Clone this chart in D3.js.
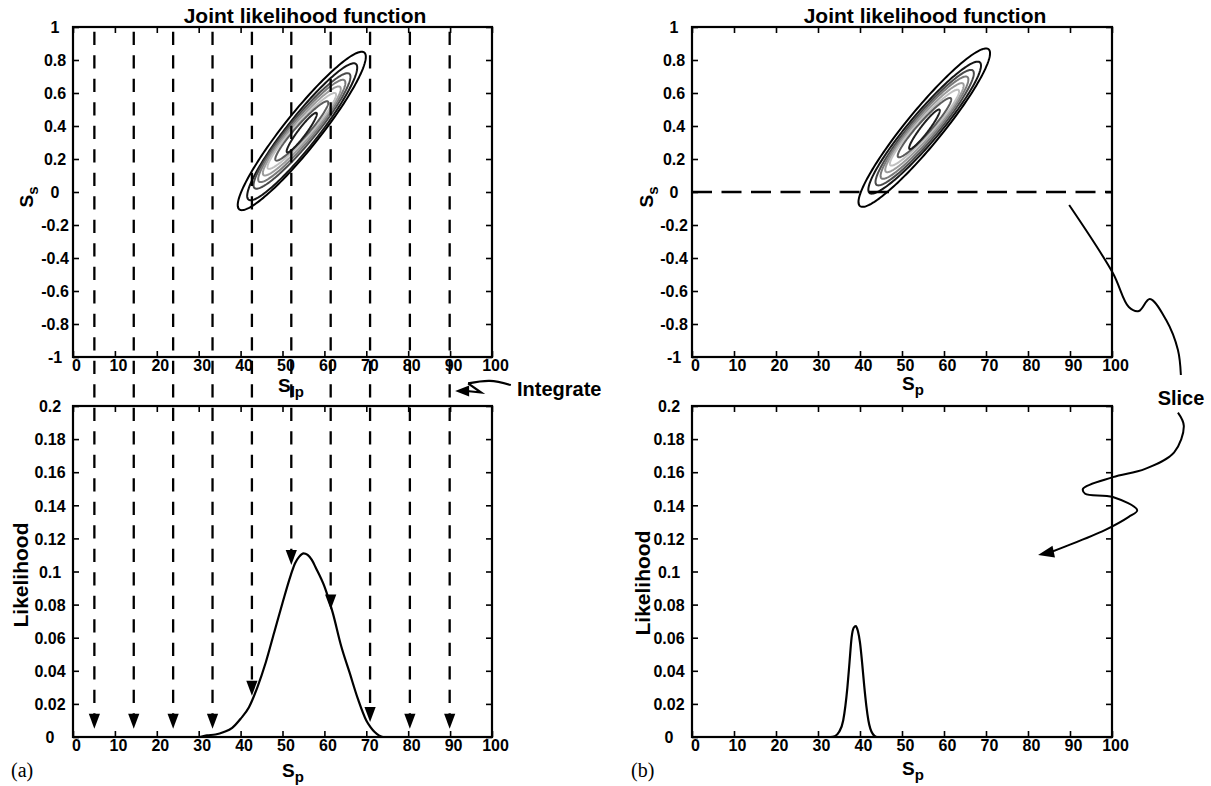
<!DOCTYPE html>
<html>
<head>
<meta charset="utf-8">
<script src="https://cdn.jsdelivr.net/npm/d3@7"></script>
<style>
  body { margin: 0; background: #fff; }
  svg text { font-family: "Liberation Sans", Arial, Helvetica, sans-serif; font-weight: bold; fill: #000; }
  .tick line { stroke: #000; stroke-width: 1.6; }
  .tick text { font-size: 16px; }
</style>
</head>
<body>
<svg id="fig" width="1211" height="786"></svg>
<script>
// ---------- axis ticks ----------
const spTicks = [0, 10, 20, 30, 40, 50, 60, 70, 80, 90, 100];
const ssTicks = [-1, -0.8, -0.6, -0.4, -0.2, 0, 0.2, 0.4, 0.6, 0.8, 1];
const ssTickLabels = ["-1", "-0.8", "-0.6", "-0.4", "-0.2", "0", "0.2", "0.4", "0.6", "0.8", "1"];
const likTicks = [0, 0.02, 0.04, 0.06, 0.08, 0.1, 0.12, 0.14, 0.16, 0.18, 0.2];
const likTickLabels = ["0", "0.02", "0.04", "0.06", "0.08", "0.1", "0.12", "0.14", "0.16", "0.18", "0.2"];

// ---------- (a) integration lines: S_lp positions and where each arrow lands ----------
const integrateSp  = [5.1, 14.5, 23.9, 33.3, 42.7, 52.1, 61.5, 70.9, 80.4, 89.9];
const integrateLik = [0.005, 0.005, 0.005, 0.005, 0.025, 0.104, 0.077, 0.009, 0.005, 0.005];

// ---------- (a) marginal likelihood of S_p ----------
const marginalSp  = [0, 30, 32, 34, 36, 38, 40, 42, 44, 46, 48, 50, 52, 53, 54, 55, 56, 57, 58, 60, 62, 64, 66, 68, 70, 71, 72, 73, 74, 100];
const marginalLik = [0, 0, 0.001, 0.0015, 0.003, 0.0055, 0.011, 0.018, 0.030, 0.045, 0.063, 0.081, 0.098, 0.105, 0.109, 0.111, 0.110, 0.107, 0.102, 0.091, 0.075, 0.055, 0.039, 0.023, 0.010, 0.006, 0.003, 0.001, 0, 0];

// ---------- (b) likelihood sliced at S_s = 0 ----------
const sliceSs = 0;
const sliceSp  = [0, 33, 34, 35, 36, 37, 37.5, 38, 38.5, 39, 39.5, 40, 40.5, 41, 41.5, 42, 43, 44, 100];
const sliceLik = [0, 0, 0.0005, 0.003, 0.010, 0.030, 0.045, 0.060, 0.066, 0.067, 0.064, 0.057, 0.045, 0.031, 0.019, 0.010, 0.002, 0, 0];

// ---------- joint likelihood contour rings (outer to inner) ----------
// each ring: highest point, lowest point, horizontal half-width through its centre
const ringShade = ["#000", "#151515", "#4a4a4a", "#7a7a7a", "#9c9c9c", "#c0c0c0", "#5c5c5c", "#1e1e1e"];
const ringsA_topSp = [68.9, 67.0, 65.5, 64.4, 63.4, 62.4, 60.6, 58.0];
const ringsA_topSs = [0.85, 0.78, 0.72, 0.68, 0.64, 0.60, 0.55, 0.48];
const ringsA_botSp = [40.3, 42.4, 43.8, 44.8, 45.8, 46.8, 48.6, 51.2];
const ringsA_botSs = [-0.11, -0.05, 0.02, 0.06, 0.10, 0.14, 0.19, 0.24];
const ringsA_halfW = [5.4, 4.6, 4.0, 3.5, 3.0, 2.5, 2.0, 1.2];

const ringsB_topSp = [70.0, 68.0, 66.4, 65.2, 64.2, 63.2, 61.4, 58.8];
const ringsB_topSs = [0.87, 0.79, 0.74, 0.70, 0.66, 0.62, 0.57, 0.50];
const ringsB_botSp = [40.6, 42.8, 44.4, 45.5, 46.5, 47.5, 49.3, 51.9];
const ringsB_botSs = [-0.09, -0.01, 0.04, 0.08, 0.12, 0.16, 0.21, 0.26];
const ringsB_halfW = [5.4, 4.6, 4.0, 3.5, 3.0, 2.5, 2.0, 1.2];

// ---------- annotation arrows (in the coordinates of the panel they start from) ----------
const integrateArrowSp = [104.5, 99.5, 94.3, 97.4, 94.0];
const integrateArrowSs = [-1.170, -1.145, -1.160, -1.215, -1.206];
const integrateArrowTip = [91.2, -1.206];

const sliceUpperSp = [89.8, 100.2, 104.0, 106.4, 109.0, 112.9, 115.7, 116.4];
const sliceUpperSs = [-0.079, -0.491, -0.697, -0.721, -0.648, -0.776, -0.958, -1.109];
const sliceLowerSp  = [115.7, 117.1, 114.8, 107.9, 100.2, 93.1, 93.6, 100.2, 106.0, 104.0, 98.3, 88.8, 85.2];
const sliceLowerLik = [0.196, 0.188, 0.172, 0.162, 0.157, 0.150, 0.147, 0.145, 0.137, 0.133, 0.125, 0.115, 0.1115];
const sliceArrowTip = [82.4, 0.110];

// ---------- layout ----------
const svg = d3.select("#fig");
const colA = { left: 73, width: 419 };
const colB = { left: 692, width: 420 };
const rowTop = { top: 27, height: 330 };
const rowBot = { top: 406, height: 331 };

function panel(col, row, yDomain, yTickVals, yTickText, yLabelOffset) {
  const x = d3.scaleLinear().domain([0, 100]).range([col.left, col.left + col.width]);
  const y = d3.scaleLinear().domain(yDomain).range([row.top + row.height, row.top]);
  const g = svg.append("g");
  const content = g.append("g");
  const axes = g.append("g");

  axes.append("g").attr("transform", `translate(0,${row.top + row.height})`)
    .call(d3.axisBottom(x).tickValues(spTicks).tickSize(-6).tickPadding(3).tickFormat(d3.format("d")))
    .call(s => s.select(".domain").remove())
    .call(s => s.selectAll("text").attr("dx", 3));
  axes.append("g").attr("transform", `translate(0,${row.top})`)
    .call(d3.axisTop(x).tickValues(spTicks).tickSize(-6).tickFormat(""))
    .call(s => s.select(".domain").remove());
  axes.append("g").attr("transform", `translate(${col.left},0)`)
    .call(d3.axisLeft(y).tickValues(yTickVals).tickSize(-6).tickFormat((d, i) => yTickText[i]))
    .call(s => s.select(".domain").remove())
    .call(s => s.selectAll("text").attr("text-anchor", "middle").attr("x", -yLabelOffset).attr("dy", "0.36em"));
  axes.append("g").attr("transform", `translate(${col.left + col.width},0)`)
    .call(d3.axisRight(y).tickValues(yTickVals).tickSize(-6).tickFormat(""))
    .call(s => s.select(".domain").remove());

  axes.append("rect")
    .attr("x", col.left).attr("y", row.top)
    .attr("width", col.width).attr("height", row.height)
    .attr("fill", "none").attr("stroke", "#000").attr("stroke-width", 2.2);

  return { x, y, g, content, axes, col, row };
}

function ringPath(p, topSp, topSs, botSp, botSs, halfW) {
  const cx = (topSp + botSp) / 2, cy = (topSs + botSs) / 2;
  const ax = (topSp - botSp) / 2, ay = (topSs - botSs) / 2;
  const pts = d3.range(0, 2 * Math.PI, Math.PI / 90).map(t =>
    [p.x(cx + ax * Math.cos(t) + halfW * Math.sin(t)), p.y(cy + ay * Math.cos(t))]);
  return d3.line().curve(d3.curveLinearClosed)(pts);
}

function drawRings(p, topSp, topSs, botSp, botSs, halfW) {
  topSp.forEach((_, i) => {
    p.content.append("path")
      .attr("d", ringPath(p, topSp[i], topSs[i], botSp[i], botSs[i], halfW[i]))
      .attr("fill", "none").attr("stroke", ringShade[i]).attr("stroke-width", 2);
  });
}

function arrowHead(parent, tip, dir, len, halfW) {
  const n = Math.hypot(dir[0], dir[1]);
  const ux = dir[0] / n, uy = dir[1] / n;
  const bx = tip[0] - ux * len, by = tip[1] - uy * len;
  parent.append("path")
    .attr("d", `M${tip[0]},${tip[1]}L${bx - uy * halfW},${by + ux * halfW}L${bx + uy * halfW},${by - ux * halfW}Z`)
    .attr("fill", "#000");
}

function axisTitle(xc, yb, sub, rotate) {
  const t = svg.append("text")
    .attr("font-size", 19)
    .attr("text-anchor", "middle")
    .attr("transform", rotate ? `translate(${xc},${yb}) rotate(-90)` : `translate(${xc},${yb})`);
  t.append("tspan").text("S");
  t.append("tspan").attr("font-size", 15).attr("dy", 5).text(sub);
  return t;
}

// ---------- panels ----------
const aTop = panel(colA, rowTop, [-1, 1], ssTicks, ssTickLabels, 18);
const aBot = panel(colA, rowBot, [0, 0.2], likTicks, likTickLabels, 23);
const bTop = panel(colB, rowTop, [-1, 1], ssTicks, ssTickLabels, 18);
const bBot = panel(colB, rowBot, [0, 0.2], likTicks, likTickLabels, 23);

// contours
drawRings(aTop, ringsA_topSp, ringsA_topSs, ringsA_botSp, ringsA_botSs, ringsA_halfW);
drawRings(bTop, ringsB_topSp, ringsB_topSs, ringsB_botSp, ringsB_botSs, ringsB_halfW);

// likelihood curves
const curveLine = (p, xs, ys) => d3.line().curve(d3.curveMonotoneX)
  .x((d, i) => p.x(xs[i])).y((d, i) => p.y(ys[i]))(xs);
aBot.content.append("path").attr("d", curveLine(aBot, marginalSp, marginalLik))
  .attr("fill", "none").attr("stroke", "#000").attr("stroke-width", 2.2);
bBot.content.append("path").attr("d", curveLine(bBot, sliceSp, sliceLik))
  .attr("fill", "none").attr("stroke", "#000").attr("stroke-width", 2.2);

// slice line in (b)
bTop.axes.append("line")
  .attr("x1", bTop.x(0)).attr("x2", bTop.x(100))
  .attr("y1", bTop.y(sliceSs)).attr("y2", bTop.y(sliceSs))
  .attr("stroke", "#000").attr("stroke-width", 2.3).attr("stroke-dasharray", "20,9.5");

// integration lines crossing from the joint panel down to the marginal panel
const arrowLayer = svg.append("g");
integrateSp.forEach((sp, i) => {
  const px = aTop.x(sp);
  const tipY = aBot.y(integrateLik[i]);
  arrowLayer.append("line")
    .attr("x1", px).attr("x2", px)
    .attr("y1", aTop.y(1)).attr("y2", tipY - 12)
    .attr("stroke", "#000").attr("stroke-width", 2.3)
    .attr("stroke-dasharray", "13.3,10.2").attr("stroke-dashoffset", 18.8);
  arrowHead(arrowLayer, [px, tipY], [0, 1], 15, 5.6);
});

// "Integrate" annotation
const annLine = d3.line().curve(d3.curveCatmullRom.alpha(0.5));
const intPts = integrateArrowSp.map((s, i) => [aTop.x(s), aTop.y(integrateArrowSs[i])]);
arrowLayer.append("path").attr("d", d3.line()(intPts.slice(2)))
  .attr("fill", "none").attr("stroke", "#000").attr("stroke-width", 2.2);
arrowLayer.append("path").attr("d", annLine(intPts.slice(0, 3)))
  .attr("fill", "none").attr("stroke", "#000").attr("stroke-width", 2.2);
const intTip = [aTop.x(integrateArrowTip[0]), aTop.y(integrateArrowTip[1])];
arrowHead(arrowLayer, intTip, [intTip[0] - intPts[4][0], intTip[1] - intPts[4][1]], 14, 5.5);
svg.append("text").attr("x", 517).attr("y", aTop.y(-1.17) + 11).attr("font-size", 20).text("Integrate");

// "Slice" annotation
const sUp = sliceUpperSp.map((s, i) => [bTop.x(s), bTop.y(sliceUpperSs[i])]);
const sLo = sliceLowerSp.map((s, i) => [bBot.x(s), bBot.y(sliceLowerLik[i])]);
arrowLayer.append("path").attr("d", annLine(sUp))
  .attr("fill", "none").attr("stroke", "#000").attr("stroke-width", 2);
arrowLayer.append("path").attr("d", annLine(sLo))
  .attr("fill", "none").attr("stroke", "#000").attr("stroke-width", 2);
const sTip = [bBot.x(sliceArrowTip[0]), bBot.y(sliceArrowTip[1])];
const sLast = sLo[sLo.length - 1];
arrowHead(arrowLayer, sTip, [sTip[0] - sLast[0], sTip[1] - sLast[1]], 16, 6);
svg.append("text").attr("x", 1181).attr("y", 405).attr("font-size", 20)
  .attr("text-anchor", "middle").text("Slice");

// ---------- titles and axis labels ----------
[[aTop, 305], [bTop, 925]].forEach(([p, xc]) => {
  svg.append("text").attr("x", xc).attr("y", 23).attr("font-size", 21)
    .attr("text-anchor", "middle").text("Joint likelihood function");
});

axisTitle(291, 392, "lp", false);
axisTitle(293, 777, "p", false);
axisTitle(913, 390, "p", false);
axisTitle(913, 775, "p", false);
axisTitle(33, 197, "s", true);
axisTitle(653, 197, "s", true);

svg.append("text").attr("font-size", 21).attr("text-anchor", "middle")
  .attr("transform", "translate(28,575) rotate(-90)").text("Likelihood");
svg.append("text").attr("font-size", 21).attr("text-anchor", "middle")
  .attr("transform", "translate(650,583) rotate(-90)").text("Likelihood");

svg.append("text").attr("x", 11).attr("y", 777).attr("font-size", 20)
  .style("font-family", "'Liberation Serif', 'Times New Roman', serif").style("font-weight", "normal").text("(a)");
svg.append("text").attr("x", 631).attr("y", 777).attr("font-size", 20)
  .style("font-family", "'Liberation Serif', 'Times New Roman', serif").style("font-weight", "normal").text("(b)");
</script>
</body>
</html>
